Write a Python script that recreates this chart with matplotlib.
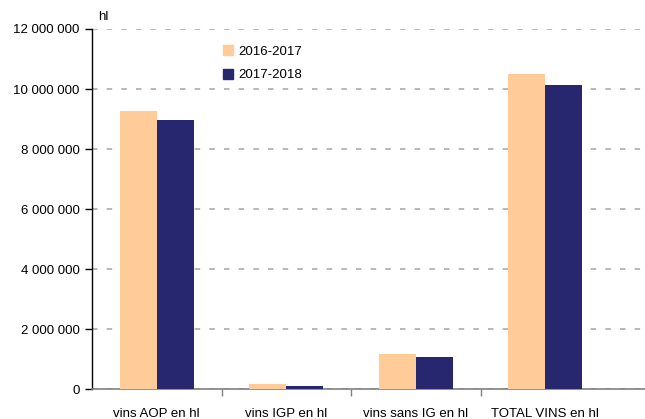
import matplotlib
matplotlib.use("Agg")
import matplotlib.pyplot as plt
from matplotlib.ticker import FuncFormatter, FixedLocator
from matplotlib.patches import Patch

categories = ["vins AOP en hl", "vins IGP en hl", "vins sans IG en hl", "TOTAL VINS en hl"]
series_names = ["2016-2017", "2017-2018"]
values_2016 = [9270000, 170000, 1170000, 10500000]
values_2017 = [8970000, 100000, 1070000, 10130000]
colors = ["#FFCC99", "#26276F"]

plt.rcParams["font.family"] = ["Liberation Sans", "DejaVu Sans"]

fig = plt.figure(figsize=(6.45, 4.19), dpi=100)
W, H = 645, 419
left_px, right_px, top_px, bot_px = 92, 645, 29, 389
ax = fig.add_axes([left_px / W, (H - bot_px) / H, (right_px - left_px) / W, (bot_px - top_px) / H])

x = list(range(len(categories)))
bw = 0.286
ax.bar([i - bw / 2 for i in x], values_2016, width=bw, color=colors[0], label=series_names[0], zorder=3)
ax.bar([i + bw / 2 for i in x], values_2017, width=bw, color=colors[1], label=series_names[1], zorder=3)

cat_px = 129.5
ax.set_xlim(-0.5, -0.5 + (right_px - left_px) / cat_px)
ax.set_ylim(0, 12000000)

ax.yaxis.set_major_locator(FixedLocator([0, 2e6, 4e6, 6e6, 8e6, 10e6, 12e6]))
ax.yaxis.set_major_formatter(FuncFormatter(lambda v, p: f"{int(v):,}".replace(",", " ")))
ax.yaxis.grid(True, color="#A6A6A6", linestyle=(0, (3.6, 6)), linewidth=1.1, zorder=0)

ax.set_xticks(x)
ax.set_xticklabels(categories)
ax.xaxis.set_minor_locator(FixedLocator([0.5, 1.5, 2.5]))
ax.tick_params(axis="x", which="major", length=0, pad=14, labelsize=9.5)
ax.tick_params(axis="x", which="minor", length=5, color="#808080", width=1)
ax.tick_params(axis="y", which="major", length=5, width=1, color="black", labelsize=9.5, pad=4)

for s in ["top", "right"]:
    ax.spines[s].set_visible(False)
ax.spines["left"].set_color("black")
ax.spines["left"].set_linewidth(1)
ax.spines["bottom"].set_color("#808080")
ax.spines["bottom"].set_linewidth(1.2)
ax.set_axisbelow(True)

fig.text(98 / W, 1 - 17 / H, "hl", fontsize=9.5, va="center", ha="left")

handles = [Patch(color=c, label=n) for c, n in zip(colors, series_names)]
leg = ax.legend(handles=handles, loc="upper left", bbox_to_anchor=((218 - left_px) / (right_px - left_px), 1 - (40 - top_px) / (bot_px - top_px)),
                frameon=False, fontsize=9.5, handlelength=0.75, handleheight=0.75,
                handletextpad=0.4, labelspacing=0.85, borderaxespad=0)

fig.savefig("out.png", dpi=100)
